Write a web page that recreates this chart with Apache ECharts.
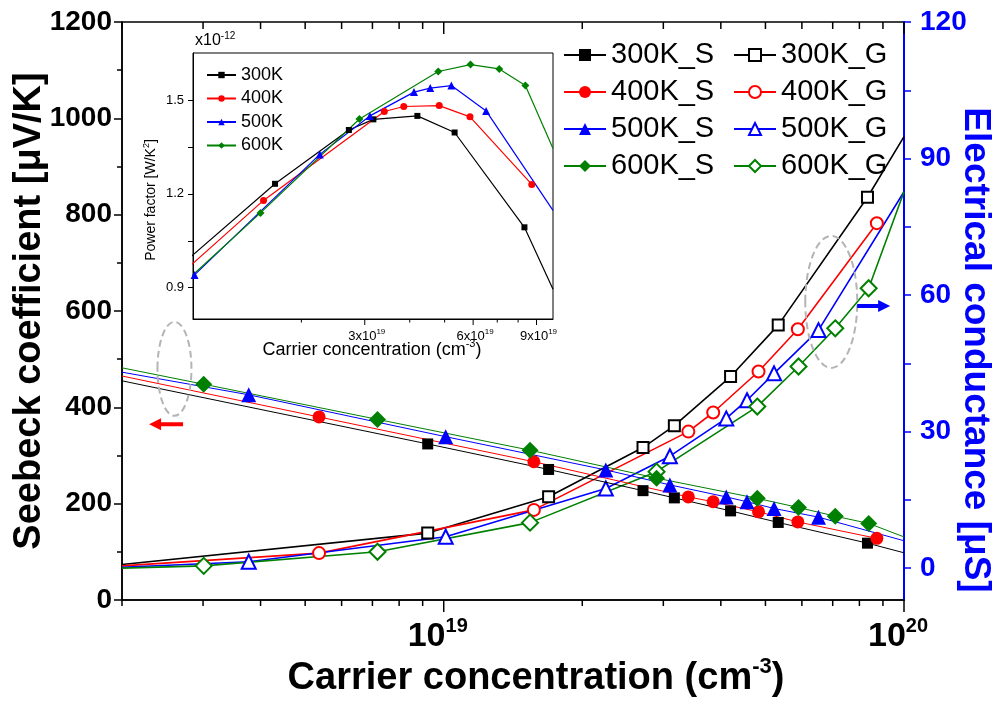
<!DOCTYPE html>
<html>
<head>
<meta charset="utf-8">
<script src="https://cdn.jsdelivr.net/npm/echarts@6/dist/echarts.min.js"></script>
<style>
  html, body { margin: 0; padding: 0; background: #fff; }
  #chart { width: 996px; height: 702px; }
</style>
</head>
<body>
<div id="chart"></div>
<script>
const FONT = 'Liberation Sans, Arial, Helvetica, sans-serif';

// Carrier concentration (cm^-3) of each sample, per temperature
const n300 = [9.23e18, 1.69e19, 2.71e19, 3.17e19, 4.20e19, 5.33e19, 8.33e19];
const n400 = [5.36e18, 1.57e19, 3.40e19, 3.85e19, 4.83e19, 5.88e19, 8.73e19];
const n500 = [3.77e18, 1.01e19, 2.25e19, 3.10e19, 4.11e19, 4.56e19, 5.22e19, 6.52e19];
const n600 = [3.01e18, 7.18e18, 1.54e19, 2.90e19, 4.80e19, 5.90e19, 7.09e19, 8.38e19];

// Seebeck coefficient (uV/K)
const seebeck300 = [324, 271, 227, 212, 185, 161, 118];
const seebeck400 = [380, 287, 214, 204, 183, 162, 128];
const seebeck500 = [426, 339, 270, 239, 214, 204, 190, 172];
const seebeck600 = [448, 375, 311, 253, 211, 192, 174, 159];

// Electrical conductance (uS)
const cond300 = [7.7, 15.7, 26.5, 31.3, 42.1, 53.4, 81.5];
const cond400 = [3.3, 12.8, 30.0, 34.2, 43.2, 52.5, 75.8];
const cond500 = [1.4, 6.9, 17.5, 24.6, 32.9, 36.9, 42.8, 52.3];
const cond600 = [0.5, 3.6, 10.0, 21.2, 35.5, 44.3, 52.7, 61.5];

// Power factor (x1e-12 W/K^2); null = below the inset's range
const pf300 = [0.97, 1.232, 1.404, 1.438, 1.449, 1.396, 1.093];
const pf400 = [0.70, 1.179, 1.463, 1.479, 1.482, 1.446, 1.230];
const pf500 = [null, 0.941, 1.326, 1.449, 1.525, 1.538, 1.546, 1.465];
const pf600 = [null, 0.79, 1.139, 1.439, 1.591, 1.613, 1.599, 1.546];

// Where the curves leave the plot at its x limits (300K, 400K, 500K, 600K)
const seebeckLeftEnd = [455, 465, 473, 482];
const seebeckRightEnd = [98, null, 123, 131];
const condLeftEnd = [0.8, 0.5, 0.2, 0.0];
const condRightEnd = [94.8, null, 82.7, 82.7];
const pfRightEnd = [0.895, null, 1.147, 1.345];

const temps = ['300K', '400K', '500K', '600K'];

// Axis ticks
const xMajorTicks = [1e19, 1e20];
const xMinorTicks = [2e18, 3e18, 4e18, 5e18, 6e18, 7e18, 8e18, 9e18,
                     2e19, 3e19, 4e19, 5e19, 6e19, 7e19, 8e19, 9e19];
const insetXLabelTicks = [3e19, 6e19, 9e19];
const insetXMinorTicks = [2e19, 4e19, 5e19, 7e19, 8e19];
const rightYLabels = [0, 30, 60, 90, 120];
const rightYTicks = [0, 15, 30, 45, 60, 75, 90, 105, 120];
const insetYLabels = [0.9, 1.2, 1.5];
const insetYTicks = [0.9, 1.05, 1.2, 1.35, 1.5];

const X_MIN = 2e18, X_MAX = 1e20;
const INSET_X_MIN = 1e19, INSET_X_MAX = 1e20;

const colors = ['#000000', '#ff0000', '#0000ff', '#008000'];
const filledSymbols = ['rect', 'circle', 'triangle', 'diamond'];
const openSymbols = ['emptyRect', 'emptyCircle', 'emptyTriangle', 'emptyDiamond'];
const filledSizes = [11, 13, 15, 17];
const openSizes = [11, 12, 14, 16];
const insetSizes = [6, 7, 8, 8];

const nAll = [n300, n400, n500, n600];
const seebeckAll = [seebeck300, seebeck400, seebeck500, seebeck600];
const condAll = [cond300, cond400, cond500, cond600];
const pfAll = [pf300, pf400, pf500, pf600];

function lineData(xs, ys, leftEnd, rightEnd, xMin, xMax) {
  const d = [];
  if (leftEnd != null) d.push({ value: [xMin, leftEnd], symbol: 'none' });
  xs.forEach((x, i) => { if (ys[i] != null) d.push([x, ys[i]]); });
  if (rightEnd != null) d.push({ value: [xMax, rightEnd], symbol: 'none' });
  return d;
}

const series = [];
for (let i = 0; i < 4; i++) {
  const c = colors[i];
  series.push({
    name: temps[i] + '_S', type: 'line', xAxisIndex: 0, yAxisIndex: 0,
    data: lineData(nAll[i], seebeckAll[i], seebeckLeftEnd[i], seebeckRightEnd[i], X_MIN, X_MAX),
    symbol: filledSymbols[i], symbolSize: filledSizes[i],
    lineStyle: { color: c, width: 1 }, itemStyle: { color: c },
    z: 4
  });
  series.push({
    name: temps[i] + '_G', type: 'line', xAxisIndex: 0, yAxisIndex: 1,
    data: lineData(nAll[i], condAll[i], condLeftEnd[i], condRightEnd[i], X_MIN, X_MAX),
    symbol: openSymbols[i], symbolSize: openSizes[i],
    lineStyle: { color: c, width: 1.6 }, itemStyle: { color: c, borderColor: c, borderWidth: 1.3 },
    z: 3
  });
  series.push({
    name: temps[i], type: 'line', xAxisIndex: 1, yAxisIndex: 2,
    data: lineData(nAll[i], pfAll[i], null, pfRightEnd[i], INSET_X_MIN, INSET_X_MAX),
    symbol: filledSymbols[i], symbolSize: insetSizes[i],
    lineStyle: { color: c, width: 1.2 }, itemStyle: { color: c },
    z: 6
  });
}

// Tick marks of the log x axes (bottom outward, top inward)
series.push({
  type: 'custom', xAxisIndex: 0, yAxisIndex: 0, silent: true, clip: false, z: 5,
  data: xMajorTicks.map(v => [v, 0, 1]).concat(xMinorTicks.map(v => [v, 0, 0])),
  renderItem(params, api) {
    const x = api.value(0), major = api.value(2) === 1;
    const b = api.coord([x, 0]);
    const t = api.coord([x, 1200]);
    const st = { stroke: '#000', lineWidth: 1.5 };
    return { type: 'group', children: [
      { type: 'line', shape: { x1: b[0], y1: b[1], x2: b[0], y2: b[1] + (major ? 12 : 6) }, style: st },
      { type: 'line', shape: { x1: t[0], y1: t[1], x2: t[0], y2: t[1] + (major ? 12 : 7) }, style: st }
    ] };
  }
});
series.push({
  type: 'custom', xAxisIndex: 1, yAxisIndex: 2, silent: true, clip: false, z: 7,
  data: insetXLabelTicks.map(v => [v, 0.8, 1]).concat(insetXMinorTicks.map(v => [v, 0.8, 0])),
  renderItem(params, api) {
    const x = api.value(0), major = api.value(2) === 1;
    const b = api.coord([x, 0.8]);
    const children = [
      { type: 'line', shape: { x1: b[0], y1: b[1], x2: b[0], y2: b[1] + (major ? 6 : 3.5) },
        style: { stroke: '#000', lineWidth: 1 } }
    ];
    if (major) {
      const exp = Math.floor(Math.log10(x) + 1e-9);
      const mant = Math.round(x / Math.pow(10, exp));
      children.push({
        type: 'text', x: b[0] + 2, y: b[1] + 9,
        style: {
          text: '{a|' + mant + 'x10}{s|' + exp + '}',
          align: 'center', verticalAlign: 'top',
          rich: {
            a: { fontSize: 13, fontFamily: FONT, fill: '#000', lineHeight: 15, verticalAlign: 'bottom' },
            s: { fontSize: 8, fontFamily: FONT, fill: '#000', lineHeight: 9, verticalAlign: 'top' }
          }
        }
      });
    }
    return { type: 'group', children };
  }
});

const titleGraphics = [
  { type: 'text', x: 30, y: 311, rotation: Math.PI / 2, silent: true,
    style: { text: 'Seebeck coefficient [μV/K]', fill: '#000', align: 'center', verticalAlign: 'middle',
             font: 'bold 38px ' + FONT } },
  { type: 'text', x: 975, y: 350, rotation: -Math.PI / 2, silent: true,
    style: { text: 'Electrical conductance [μS]', fill: '#0000ff', align: 'center', verticalAlign: 'middle',
             font: 'bold 37px ' + FONT } },
  { type: 'text', x: 536, y: 677, silent: true,
    style: { text: '{a|Carrier concentration (cm}{s|-3}{a|)}', align: 'center', verticalAlign: 'middle',
             rich: {
               a: { fontSize: 38, fontWeight: 'bold', fontFamily: FONT, fill: '#000', lineHeight: 42, verticalAlign: 'bottom' },
               s: { fontSize: 22, fontWeight: 'bold', fontFamily: FONT, fill: '#000', lineHeight: 22, verticalAlign: 'top' }
             } } },
  { type: 'text', x: 372, y: 349, silent: true, z: 10,
    style: { text: '{a|Carrier concentration (cm}{s|-3}{a|)}', align: 'center', verticalAlign: 'middle',
             rich: {
               a: { fontSize: 18, fontFamily: FONT, fill: '#000', lineHeight: 21, verticalAlign: 'bottom' },
               s: { fontSize: 11, fontFamily: FONT, fill: '#000', lineHeight: 11, verticalAlign: 'top' }
             } } },
  { type: 'text', x: 150, y: 200, rotation: Math.PI / 2, silent: true, z: 10,
    style: { text: '{a|Power factor [W/K}{s|2}{a|]}', align: 'center', verticalAlign: 'middle',
             rich: {
               a: { fontSize: 14, fontFamily: FONT, fill: '#000', lineHeight: 16, verticalAlign: 'bottom' },
               s: { fontSize: 9, fontFamily: FONT, fill: '#000', lineHeight: 9, verticalAlign: 'top' }
             } } },
  { type: 'text', x: 195, y: 31, silent: true, z: 10,
    style: { text: '{a|x10}{s|-12}', align: 'left', verticalAlign: 'top',
             rich: {
               a: { fontSize: 16, fontFamily: FONT, fill: '#000', lineHeight: 18, verticalAlign: 'bottom' },
               s: { fontSize: 10, fontFamily: FONT, fill: '#000', lineHeight: 10, verticalAlign: 'top' }
             } } }
];

const option = {
  animation: false,
  backgroundColor: '#ffffff',
  textStyle: { fontFamily: FONT },
  grid: [
    { left: 122, top: 22, width: 782, height: 578, show: true, borderColor: '#000', borderWidth: 1.5,
      backgroundColor: 'transparent' },
    { left: 193, top: 53, width: 360, height: 266, show: true, borderColor: '#000', borderWidth: 1,
      backgroundColor: '#ffffff' }
  ],
  xAxis: [
    { type: 'log', logBase: 10, gridIndex: 0, min: X_MIN, max: X_MAX,
      axisLine: { lineStyle: { color: '#000', width: 1.5 } },
      axisTick: { show: false }, splitLine: { show: false },
      axisLabel: {
        showMinLabel: false, showMaxLabel: true, margin: 16, padding: [0, 12, 0, 0],
        formatter: v => '{b|10}{s|' + Math.round(Math.log10(v)) + '}',
        rich: {
          b: { fontSize: 34, fontWeight: 'bold', fontFamily: FONT, color: '#000', lineHeight: 38, verticalAlign: 'bottom' },
          s: { fontSize: 20, fontWeight: 'bold', fontFamily: FONT, color: '#000', lineHeight: 20, verticalAlign: 'top' }
        }
      } },
    { type: 'log', logBase: 10, gridIndex: 1, min: INSET_X_MIN, max: INSET_X_MAX,
      axisLine: { lineStyle: { color: '#000', width: 1 } },
      axisTick: { show: false }, axisLabel: { show: false }, splitLine: { show: false } }
  ],
  yAxis: [
    { type: 'value', gridIndex: 0, position: 'left', min: 0, max: 1200, interval: 200,
      axisLine: { show: true, lineStyle: { color: '#000', width: 1.5 } },
      axisTick: { show: true, length: 8, lineStyle: { color: '#000', width: 1.5 } },
      minorTick: { show: true, splitNumber: 2, length: 5, lineStyle: { color: '#000', width: 1.5 } },
      splitLine: { show: false },
      axisLabel: { formatter: v => String(v), fontSize: 28, fontWeight: 'bold', color: '#000', margin: 10,
                   fontFamily: FONT } },
    { type: 'value', gridIndex: 0, position: 'right', min: -7, max: 120,
      axisLine: { show: true, lineStyle: { color: '#0000ff', width: 2 } },
      axisTick: { show: true, length: 7, customValues: rightYTicks, lineStyle: { color: '#0000ff', width: 1.5 } },
      splitLine: { show: false },
      axisLabel: { customValues: rightYLabels, formatter: v => String(v), fontSize: 28, fontWeight: 'bold',
                   color: '#0000ff', margin: 16, fontFamily: FONT } },
    { type: 'value', gridIndex: 1, min: 0.8, max: 1.65,
      axisLine: { show: true, lineStyle: { color: '#000', width: 1 } },
      axisTick: { show: true, length: 5, customValues: insetYTicks, lineStyle: { color: '#000', width: 1 } },
      splitLine: { show: false },
      axisLabel: { customValues: insetYLabels, formatter: v => Number(v).toFixed(1), fontSize: 13, color: '#000',
                   margin: 9, fontFamily: FONT } }
  ],
  legend: [
    { data: temps.map(t => t + '_S'), orient: 'vertical', left: 563, top: 40, padding: 0,
      itemWidth: 42, itemHeight: 15, itemGap: 7, selectedMode: false,
      textStyle: { fontSize: 29, color: '#000', lineHeight: 30, fontFamily: FONT } },
    { data: temps.map(t => t + '_G'), orient: 'vertical', left: 733, top: 40, padding: 0,
      itemWidth: 42, itemHeight: 15, itemGap: 7, selectedMode: false,
      textStyle: { fontSize: 29, color: '#000', lineHeight: 30, fontFamily: FONT } },
    { data: temps, orient: 'vertical', left: 206, top: 65, padding: 0, z: 10,
      itemWidth: 29, itemHeight: 8, itemGap: 3.5, selectedMode: false,
      textStyle: { fontSize: 18, color: '#000', lineHeight: 20, fontFamily: FONT } }
  ],
  graphic: titleGraphics,
  series
};

const chart = echarts.init(document.getElementById('chart'), null, { renderer: 'canvas' });
chart.setOption(option);

// Dashed ellipses and arrows marking which curves belong to which axis,
// anchored in data space: [x, value] on the Seebeck or conductance axis.
const annot = {
  seebeckGroup: [2.6e18, 480],
  seebeckArrowTip: [2.29e18, 365],
  condGroup: [6.95e19, 58.5],
  condArrowTail: [7.91e19, 57.6]
};
const pS = chart.convertToPixel({ xAxisIndex: 0, yAxisIndex: 0 }, annot.seebeckGroup);
const pSA = chart.convertToPixel({ xAxisIndex: 0, yAxisIndex: 0 }, annot.seebeckArrowTip);
const pG = chart.convertToPixel({ xAxisIndex: 0, yAxisIndex: 1 }, annot.condGroup);
const pGA = chart.convertToPixel({ xAxisIndex: 0, yAxisIndex: 1 }, annot.condArrowTail);

function arrow(x0, y0, dir, len, color) {
  // x0,y0 = tip when dir<0 (points left), tail when dir>0 (points right)
  const tipX = dir < 0 ? x0 : x0 + len;
  const endX = dir < 0 ? x0 + len : x0;
  const hx = tipX - dir * 12;
  return {
    type: 'polygon', silent: true, z: 20,
    shape: { points: [
      [tipX, y0], [hx, y0 - 6], [hx, y0 - 2], [endX, y0 - 2], [endX, y0 + 2], [hx, y0 + 2], [hx, y0 + 6]
    ] },
    style: { fill: color }
  };
}

const annotGraphics = [
  { type: 'ellipse', silent: true, z: 20, shape: { cx: pS[0], cy: pS[1], rx: 17, ry: 47 },
    style: { fill: 'none', stroke: '#b4b4b4', lineWidth: 2, lineDash: [7, 4] } },
  { type: 'ellipse', silent: true, z: 20, shape: { cx: pG[0], cy: pG[1], rx: 26, ry: 66 },
    style: { fill: 'none', stroke: '#b4b4b4', lineWidth: 2, lineDash: [7, 4] } },
  arrow(pSA[0], pSA[1], -1, 34, '#ff0000'),
  arrow(pGA[0], pGA[1], 1, 33, '#0000ff')
];

chart.setOption({ graphic: titleGraphics.concat(annotGraphics) });
</script>
</body>
</html>
